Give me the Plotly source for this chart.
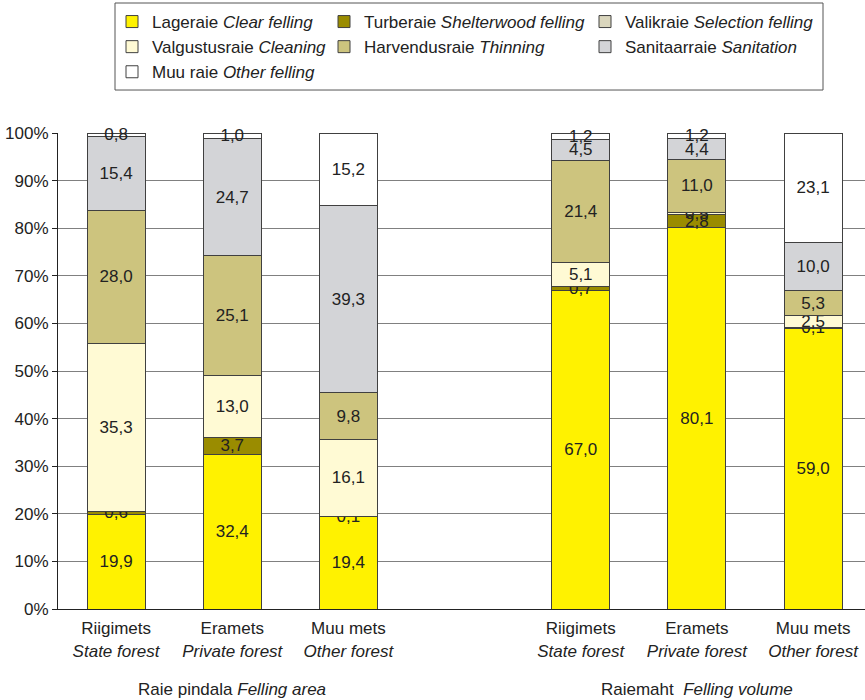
import plotly.graph_objects as go

# ---- data ----
categories_et = ["Riigimets", "Eramets", "Muu mets", "Riigimets", "Eramets", "Muu mets"]
categories_en = ["State forest", "Private forest", "Other forest", "State forest", "Private forest", "Other forest"]
group_titles = ["Raie pindala <i>Felling area</i>", "Raiemaht  <i>Felling volume</i>"]

series_names = [
    "Lageraie <i>Clear felling</i>",
    "Turberaie <i>Shelterwood felling</i>",
    "Valgustusraie <i>Cleaning</i>",
    "Harvendusraie <i>Thinning</i>",
    "Valikraie <i>Selection felling</i>",
    "Sanitaarraie <i>Sanitation</i>",
    "Muu raie <i>Other felling</i>",
]
clear_felling = [19.9, 32.4, 19.4, 67.0, 80.1, 59.0]
shelterwood = [0.6, 3.7, 0.1, 0.7, 2.8, 0.1]
cleaning = [35.3, 13.0, 16.1, 5.1, 0.5, 2.5]
thinning = [28.0, 25.1, 9.8, 21.4, 11.0, 5.3]
selection = [0.0, 0.0, 0.0, 0.0, 0.0, 0.0]
sanitation = [15.4, 24.7, 39.3, 4.5, 4.4, 10.0]
other = [0.8, 1.0, 15.2, 1.2, 1.2, 23.1]
series_values = [clear_felling, shelterwood, cleaning, thinning, selection, sanitation, other]

y_ticks = [0, 10, 20, 30, 40, 50, 60, 70, 80, 90, 100]

# ---- style ----
colors = ["#fff200", "#9a8c00", "#fffad4", "#cdc47e", "#dad6bd", "#d3d4d7", "#ffffff"]
legend_of = ["legend", "legend2", "legend", "legend2", "legend3", "legend3", "legend"]
x_pos = [0, 1, 2, 4, 5, 6]
FONT = "Liberation Sans, Arial, sans-serif"
FS = 17

fig = go.Figure()
for name, vals, col, lg in zip(series_names, series_values, colors, legend_of):
    txt = [("%.1f" % v).replace(".", ",") if v > 0 else "" for v in vals]
    fig.add_trace(go.Bar(
        x=x_pos, y=vals, name=name, text=txt,
        marker=dict(color=col, line=dict(color="#404040", width=1)),
        textposition="inside", insidetextanchor="middle", textangle=0,
        textfont=dict(color="#222222", size=FS, family=FONT),
        width=0.5, legend=lg, cliponaxis=False,
    ))

ticktext = [f"{a}<br><i>{b}</i>" for a, b in zip(categories_et, categories_en)]

legend_common = dict(yanchor="top", xanchor="left", orientation="v",
                     bgcolor="rgba(0,0,0,0)", font=dict(size=FS),
                     tracegroupgap=0, traceorder="normal")

# paper-x helper so that the legend/frame stay in place in pixel terms
PLOT_L, PLOT_W = 58, 865 - 58
def px_x(p):
    return (p - PLOT_L) / PLOT_W

fig.update_layout(
    width=865, height=700,
    margin=dict(l=58, r=0, t=133, b=91),
    barmode="stack",
    paper_bgcolor="white", plot_bgcolor="white",
    font=dict(family=FONT, size=FS, color="#222222"),
    uniformtext=dict(minsize=FS, mode="show"),
    xaxis=dict(range=[-0.5, 6.447], tickvals=x_pos, ticktext=ticktext,
               showgrid=False, zeroline=False, showline=True, linecolor="#222",
               linewidth=1, ticks="", tickfont=dict(size=FS), ticklabelstandoff=4),
    yaxis=dict(range=[0, 100], tickvals=y_ticks, ticktext=[f"{v}%" for v in y_ticks],
               showgrid=True, gridcolor="#808080", gridwidth=1, zeroline=False,
               showline=True, linecolor="#222", linewidth=1,
               ticks="outside", ticklen=5, tickcolor="#222", tickfont=dict(size=FS)),
    legend=dict(x=px_x(112), y=1.271, **legend_common),
    legend2=dict(x=px_x(324), y=1.271, **legend_common),
    legend3=dict(x=px_x(585), y=1.271, **legend_common),
)

# legend frame
fig.add_shape(type="rect", xref="paper", yref="paper",
              x0=px_x(115), x1=px_x(823), y0=1.0903, y1=1.2731,
              line=dict(color="#555555", width=1), fillcolor="rgba(0,0,0,0)")

# group titles
for gx, t in zip([1, 5], group_titles):
    fig.add_annotation(x=gx, xref="x", y=-0.170, yref="paper", text=t,
                       showarrow=False, yanchor="middle", font=dict(size=FS))

fig.write_html("out.html", config={"displayModeBar": False},
               post_script="document.body.style.margin='0';document.body.style.overflow='hidden';")
